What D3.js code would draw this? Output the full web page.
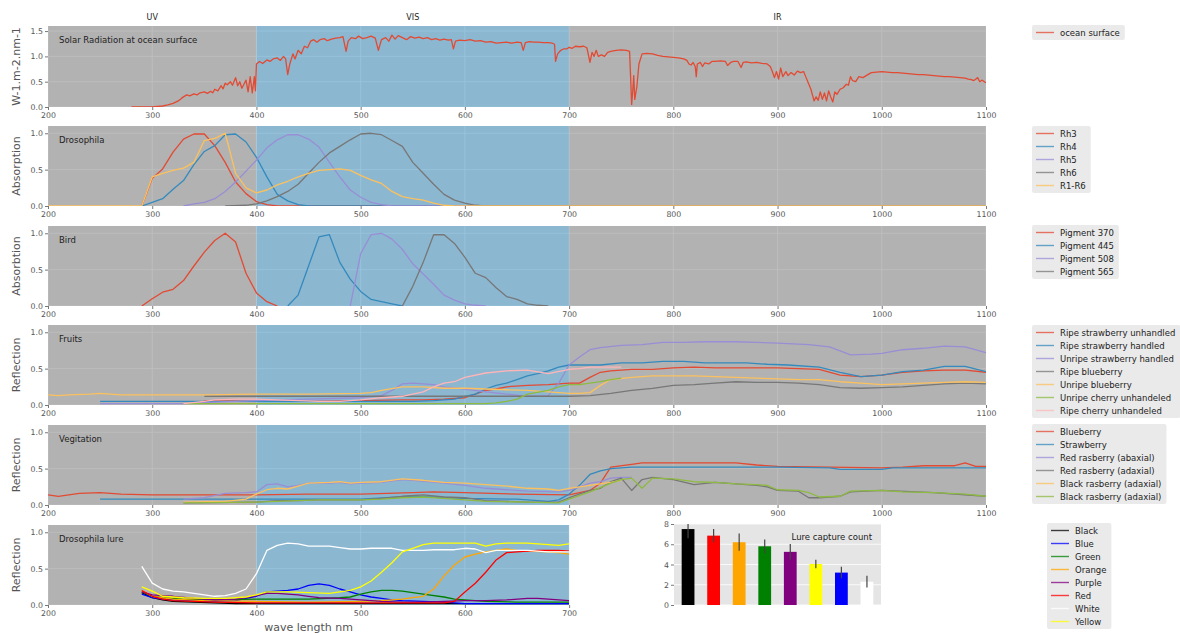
<!DOCTYPE html>
<html>
<head>
<meta charset="utf-8">
<script src="https://cdn.jsdelivr.net/npm/d3@7"></script>
<style>
body { margin: 0; background: #fff; }
text { font-family: "DejaVu Sans", sans-serif; }
</style>
</head>
<body>
<div id="chart"></div>
<script>
// ---- data (wavelength nm, value) ----
var solar = [[280,0],[290,0],[300,0.0],[305,0.01],[310,0.02],[315,0.04],[320,0.07],[325,0.12],[328,0.17],[330,0.2],[333,0.24],[336,0.22],[340,0.26],[343,0.24],[346,0.28],[350,0.3],[353,0.27],[356,0.31],[358,0.28],[360,0.35],[363,0.32],[366,0.42],[368,0.36],[370,0.47],[372,0.44],[375,0.5],[377,0.43],[380,0.58],[382,0.42],[384,0.5],[386,0.37],[388,0.45],[390,0.53],[392,0.3],[394,0.6],[396,0.28],[398,0.6],[399,0.32],[400,0.85],[403,0.9],[406,0.86],[410,0.93],[413,0.9],[416,0.95],[420,0.97],[423,0.92],[426,1.0],[428,0.95],[430,0.64],[432,0.85],[435,1.05],[437,0.95],[440,1.12],[443,1.05],[446,1.2],[449,1.17],[452,1.3],[455,1.33],[458,1.28],[461,1.33],[465,1.35],[468,1.31],[472,1.34],[476,1.36],[480,1.37],[483,1.39],[486,1.1],[488,1.3],[491,1.37],[495,1.35],[498,1.4],[502,1.35],[506,1.37],[510,1.4],[514,1.36],[517,1.12],[520,1.33],[524,1.37],[527,1.3],[530,1.42],[533,1.34],[536,1.41],[540,1.37],[544,1.33],[548,1.39],[552,1.36],[556,1.38],[560,1.35],[564,1.37],[568,1.33],[572,1.35],[576,1.32],[580,1.34],[584,1.32],[587,1.33],[589,1.15],[591,1.3],[595,1.32],[600,1.31],[605,1.33],[610,1.3],[615,1.31],[620,1.28],[625,1.29],[630,1.26],[635,1.27],[640,1.28],[645,1.26],[650,1.28],[654,1.27],[656,1.12],[658,1.27],[662,1.29],[666,1.28],[670,1.28],[675,1.27],[680,1.27],[684,1.26],[686,1.24],[687,0.9],[689,1.05],[692,1.12],[695,1.15],[698,1.15],[700,1.18],[703,1.16],[706,1.2],[710,1.19],[714,1.2],[717,1.17],[718,1.08],[720,0.88],[722,1.08],[724,1.0],[726,1.12],[728,1.0],[731,1.03],[734,1.0],[737,1.08],[740,1.1],[745,1.12],[750,1.13],[755,1.12],[758,1.1],[759,0.6],[760,0.05],[761,0.3],[762,0.62],[763,0.15],[765,0.4],[767,0.85],[770,1.05],[775,1.06],[780,1.05],[785,1.02],[790,1.0],[795,0.99],[800,0.98],[805,0.97],[810,0.95],[813,0.92],[815,0.85],[817,0.83],[819,0.88],[821,0.8],[822,0.6],[823,0.85],[826,0.88],[828,0.8],[830,0.87],[834,0.85],[837,0.9],[840,0.9],[845,0.91],[850,0.9],[852,0.82],[855,0.88],[858,0.9],[862,0.9],[865,0.78],[867,0.88],[870,0.89],[875,0.87],[880,0.88],[885,0.86],[890,0.85],[893,0.8],[895,0.7],[897,0.58],[899,0.7],[901,0.55],[903,0.77],[905,0.6],[908,0.7],[910,0.62],[913,0.68],[916,0.63],[919,0.71],[922,0.68],[925,0.7],[927,0.6],[930,0.45],[932,0.35],[934,0.2],[935,0.12],[937,0.2],[939,0.13],[941,0.3],[943,0.15],[945,0.28],[947,0.12],[949,0.32],[951,0.2],[953,0.1],[955,0.3],[957,0.25],[960,0.35],[963,0.38],[966,0.45],[968,0.43],[970,0.6],[972,0.52],[975,0.5],[978,0.6],[982,0.58],[985,0.62],[990,0.68],[995,0.69],[1000,0.7],[1005,0.69],[1010,0.68],[1015,0.68],[1020,0.67],[1025,0.66],[1030,0.65],[1035,0.64],[1040,0.64],[1045,0.63],[1050,0.62],[1055,0.61],[1060,0.6],[1065,0.6],[1070,0.59],[1075,0.58],[1080,0.57],[1083,0.55],[1086,0.54],[1088,0.52],[1090,0.55],[1092,0.58],[1094,0.5],[1096,0.53],[1100,0.48]];

var rh3 = [[290,0],[300,0.38],[310,0.51],[320,0.74],[330,0.92],[340,0.99],[350,0.99],[360,0.83],[370,0.6],[380,0.33],[390,0.17],[400,0.06],[410,0.02],[420,0],[1100,0]];
var rh4 = [[290,0],[300,0.05],[310,0.1],[320,0.23],[330,0.35],[340,0.57],[350,0.75],[360,0.83],[370,0.98],[380,0.99],[390,0.88],[400,0.67],[410,0.4],[420,0.16],[430,0.07],[440,0.02],[450,0],[1100,0]];
var rh5 = [[330,0],[340,0.03],[350,0.05],[360,0.1],[370,0.2],[380,0.33],[390,0.48],[400,0.63],[410,0.8],[420,0.91],[430,0.98],[440,0.98],[450,0.92],[460,0.81],[470,0.6],[480,0.4],[490,0.22],[500,0.12],[510,0.05],[520,0.02],[530,0],[1100,0]];
var rh6 = [[370,0],[390,0.01],[400,0.03],[410,0.07],[420,0.13],[430,0.2],[440,0.3],[450,0.45],[460,0.6],[470,0.73],[480,0.82],[490,0.91],[500,0.99],[510,1.0],[520,0.98],[530,0.9],[540,0.82],[550,0.6],[560,0.45],[570,0.3],[580,0.16],[590,0.08],[600,0.04],[610,0.01],[620,0],[1100,0]];
var r1r6 = [[200,0],[290,0],[300,0.4],[310,0.45],[320,0.49],[330,0.52],[340,0.6],[350,0.9],[360,0.93],[370,1.0],[380,0.45],[390,0.25],[400,0.18],[410,0.22],[420,0.29],[430,0.34],[440,0.4],[450,0.45],[460,0.49],[470,0.5],[480,0.51],[490,0.49],[500,0.42],[510,0.36],[520,0.31],[530,0.2],[540,0.13],[550,0.1],[560,0.08],[570,0.04],[580,0.01],[590,0],[1100,0]];

var pig370 = [[290,0],[300,0.1],[310,0.19],[320,0.23],[330,0.35],[340,0.55],[350,0.74],[360,0.9],[370,1.0],[380,0.88],[390,0.45],[400,0.18],[410,0.06],[420,0]];
var pig445 = [[430,0],[440,0.15],[450,0.55],[460,0.95],[470,0.98],[480,0.6],[490,0.37],[500,0.2],[510,0.09],[520,0.06],[530,0.03],[540,0]];
var pig508 = [[490,0],[500,0.72],[510,0.98],[520,1.0],[530,0.92],[540,0.78],[550,0.58],[560,0.44],[570,0.3],[580,0.15],[590,0.08],[600,0.03],[610,0.01],[620,0]];
var pig565 = [[540,0],[550,0.27],[560,0.6],[570,0.98],[580,0.98],[590,0.86],[600,0.67],[610,0.45],[620,0.39],[630,0.25],[640,0.13],[650,0.09],[660,0.03],[670,0.01],[680,0]];

var ripeStrawUnh = [[350,0.06],[400,0.05],[450,0.05],[500,0.06],[540,0.07],[560,0.07],[580,0.08],[600,0.1],[610,0.15],[620,0.2],[630,0.22],[640,0.25],[660,0.27],[680,0.28],[700,0.3],[710,0.3],[720,0.38],[730,0.45],[740,0.47],[760,0.49],[780,0.49],[800,0.51],[820,0.52],[840,0.51],[880,0.51],[900,0.51],[920,0.5],[940,0.49],[960,0.41],[980,0.39],[1000,0.41],[1020,0.45],[1040,0.47],[1060,0.48],[1080,0.48],[1100,0.45]];
var ripeStrawH = [[250,0.05],[300,0.05],[400,0.05],[500,0.05],[550,0.05],[570,0.06],[590,0.08],[600,0.12],[610,0.15],[620,0.22],[630,0.27],[640,0.3],[650,0.35],[660,0.4],[670,0.43],[680,0.47],[690,0.52],[700,0.55],[730,0.55],[750,0.58],[770,0.58],[790,0.6],[810,0.6],[830,0.58],[870,0.58],[890,0.56],[910,0.55],[940,0.52],[960,0.45],[980,0.39],[1000,0.41],[1020,0.46],[1040,0.48],[1060,0.53],[1080,0.53],[1100,0.46]];
var unripeStrawH = [[250,0.02],[330,0.02],[360,0.04],[400,0.06],[450,0.08],[500,0.1],[520,0.13],[530,0.2],[540,0.29],[550,0.3],[560,0.29],[570,0.28],[580,0.25],[600,0.22],[620,0.18],[640,0.15],[660,0.12],[670,0.12],[680,0.13],[690,0.3],[700,0.55],[710,0.66],[720,0.76],[730,0.79],[750,0.82],[770,0.83],[790,0.86],[810,0.86],[830,0.87],[860,0.87],[880,0.86],[900,0.85],[930,0.83],[950,0.8],[970,0.69],[990,0.7],[1000,0.71],[1020,0.76],[1040,0.78],[1060,0.81],[1080,0.8],[1100,0.72]];
var ripeBlue = [[350,0.12],[400,0.12],[500,0.12],[600,0.12],[700,0.12],[720,0.13],[740,0.16],[760,0.2],[780,0.23],[800,0.27],[820,0.28],[840,0.3],[860,0.32],[880,0.31],[900,0.31],[920,0.3],[940,0.28],[960,0.24],[980,0.23],[1000,0.24],[1020,0.25],[1040,0.27],[1060,0.29],[1080,0.3],[1100,0.29]];
var unripeBlue = [[200,0.14],[210,0.13],[220,0.14],[240,0.15],[250,0.16],[260,0.15],[270,0.14],[300,0.14],[350,0.14],[400,0.15],[450,0.15],[500,0.16],[510,0.17],[520,0.2],[540,0.25],[560,0.25],[580,0.23],[600,0.23],[620,0.22],[640,0.21],[660,0.2],[680,0.18],[700,0.16],[710,0.16],[720,0.17],[730,0.27],[740,0.35],[760,0.38],[780,0.4],[800,0.4],[820,0.4],[840,0.39],[860,0.38],[880,0.37],[900,0.36],[920,0.35],[940,0.35],[960,0.32],[980,0.3],[1000,0.28],[1020,0.29],[1040,0.3],[1060,0.31],[1080,0.32],[1100,0.31]];
var unripeCherry = [[330,0.02],[400,0.02],[500,0.02],[600,0.02],[620,0.02],[630,0.03],[640,0.05],[650,0.08],[660,0.15],[680,0.2],[690,0.25],[700,0.28],[710,0.28],[720,0.3],[730,0.32],[740,0.35],[750,0.37]];
var ripeCherry = [[330,0.02],[350,0.05],[360,0.07],[380,0.08],[400,0.08],[420,0.07],[440,0.06],[460,0.05],[480,0.05],[500,0.07],[520,0.1],[540,0.12],[560,0.18],[570,0.25],[580,0.3],[590,0.32],[600,0.38],[620,0.44],[640,0.47],[660,0.48],[680,0.43],[700,0.49],[710,0.5],[720,0.52],[740,0.52],[750,0.52]];

var vegBlueberry = [[200,0.14],[210,0.12],[230,0.16],[250,0.17],[270,0.15],[300,0.14],[350,0.14],[400,0.14],[450,0.15],[500,0.15],[550,0.17],[570,0.18],[600,0.17],[650,0.15],[700,0.14],[720,0.2],[730,0.3],[740,0.52],[760,0.56],[770,0.58],[800,0.58],[860,0.58],[880,0.55],[900,0.53],[950,0.52],[1000,0.51],[1020,0.52],[1040,0.54],[1070,0.54],[1080,0.58],[1090,0.53],[1100,0.53]];
var vegStrawberry = [[250,0.08],[300,0.08],[400,0.08],[500,0.08],[550,0.12],[600,0.09],[650,0.08],[680,0.05],[690,0.07],[700,0.15],[710,0.27],[720,0.42],[730,0.47],[740,0.5],[760,0.52],[800,0.52],[900,0.52],[950,0.51],[960,0.49],[1000,0.49],[1010,0.51],[1100,0.51]];
var redRasAb = [[330,0.08],[350,0.1],[370,0.16],[390,0.17],[400,0.18],[410,0.28],[420,0.29],[430,0.25],[440,0.27],[450,0.3],[470,0.3],[480,0.31],[490,0.29],[500,0.3],[520,0.31],[540,0.35],[560,0.33],[580,0.3],[600,0.27],[620,0.23],[640,0.21],[660,0.19],[690,0.18],[700,0.2],[710,0.25],[720,0.3],[730,0.32],[740,0.37],[750,0.38],[760,0.38]];
var redRasAd = [[330,0.03],[400,0.04],[420,0.06],[440,0.06],[460,0.07],[500,0.07],[520,0.09],[540,0.12],[560,0.14],[580,0.11],[600,0.1],[620,0.06],[660,0.04],[690,0.04],[700,0.1],[720,0.2],[730,0.23],[740,0.32],[750,0.37],[760,0.2],[770,0.35],[780,0.38],[800,0.35],[820,0.28],[840,0.31],[860,0.29],[880,0.27],[890,0.25],[900,0.2],[920,0.19],[930,0.1],[940,0.1],[950,0.11],[960,0.12],[970,0.18],[1000,0.2],[1050,0.17],[1100,0.12]];
var blackRasAdY = [[330,0.04],[370,0.05],[390,0.08],[400,0.15],[410,0.21],[420,0.23],[430,0.22],[440,0.26],[450,0.3],[470,0.31],[480,0.32],[490,0.3],[500,0.31],[520,0.32],[540,0.36],[560,0.34],[580,0.31],[600,0.3],[620,0.28],[640,0.26],[660,0.23],[680,0.22],[690,0.2],[700,0.23],[720,0.27],[740,0.31],[750,0.34]];
var blackRasAdG = [[330,0.03],[400,0.04],[420,0.05],[440,0.06],[460,0.07],[500,0.07],[520,0.08],[540,0.1],[560,0.11],[580,0.09],[600,0.07],[620,0.05],[660,0.04],[690,0.03],[700,0.08],[720,0.18],[740,0.3],[750,0.35],[760,0.37],[770,0.23],[780,0.37],[800,0.36],[820,0.32],[840,0.31],[860,0.29],[880,0.28],[890,0.27],[900,0.21],[920,0.2],[930,0.17],[940,0.11],[960,0.12],[970,0.19],[1000,0.2],[1020,0.18],[1050,0.17],[1080,0.15],[1100,0.12]];

var lureBlack = [[290,0.17],[300,0.1],[310,0.07],[320,0.05],[340,0.04],[360,0.03],[380,0.02],[400,0.02],[500,0.02],[600,0.02],[700,0.02]];
var lureBlue = [[290,0.15],[300,0.1],[310,0.08],[320,0.07],[340,0.06],[360,0.05],[380,0.06],[400,0.12],[410,0.18],[420,0.19],[430,0.2],[440,0.22],[450,0.27],[460,0.29],[470,0.27],[480,0.22],[490,0.18],[500,0.14],[510,0.11],[520,0.09],[530,0.07],[540,0.06],[560,0.05],[580,0.04],[600,0.02],[650,0.02],[700,0.02]];
var lureGreen = [[290,0.18],[300,0.12],[310,0.1],[330,0.08],[360,0.07],[400,0.08],[450,0.08],[480,0.1],[490,0.11],[500,0.15],[510,0.18],[520,0.2],[530,0.2],[540,0.19],[560,0.15],[580,0.11],[590,0.08],[600,0.07],[620,0.05],[650,0.04],[700,0.04]];
var lureOrange = [[290,0.2],[300,0.12],[320,0.08],[350,0.06],[400,0.05],[450,0.04],[500,0.05],[520,0.06],[540,0.08],[550,0.1],[560,0.12],[570,0.22],[580,0.4],[590,0.55],[600,0.66],[610,0.7],[620,0.73],[630,0.75],[640,0.77],[650,0.75],[660,0.74],[680,0.73],[690,0.72],[700,0.7]];
var lurePurple = [[290,0.18],[300,0.14],[310,0.13],[320,0.12],[340,0.09],[360,0.07],[380,0.08],[390,0.1],[400,0.13],[410,0.16],[420,0.16],[430,0.15],[440,0.14],[450,0.12],[460,0.1],[480,0.09],[500,0.07],[520,0.05],[540,0.04],[560,0.04],[580,0.05],[600,0.06],[620,0.06],[640,0.07],[660,0.09],[670,0.09],[690,0.07],[700,0.06]];
var lureRed = [[290,0.2],[300,0.12],[310,0.08],[320,0.06],[340,0.05],[360,0.04],[400,0.03],[500,0.03],[580,0.03],[590,0.05],[600,0.18],[610,0.3],[620,0.45],[630,0.62],[640,0.72],[650,0.73],[670,0.75],[690,0.75],[700,0.74]];
var lureWhite = [[290,0.53],[300,0.3],[310,0.22],[320,0.19],[330,0.18],[340,0.16],[350,0.14],[360,0.12],[370,0.13],[380,0.16],[390,0.22],[400,0.43],[410,0.75],[420,0.82],[430,0.85],[440,0.84],[450,0.81],[470,0.81],[480,0.79],[490,0.77],[500,0.77],[510,0.78],[530,0.78],[540,0.75],[560,0.75],[570,0.76],[590,0.76],[600,0.78],[610,0.77],[620,0.72],[630,0.75],[660,0.75],[680,0.73],[700,0.73]];
var lureYellow = [[290,0.25],[300,0.19],[310,0.12],[330,0.1],[350,0.09],[370,0.09],[390,0.11],[400,0.14],[410,0.18],[430,0.18],[450,0.17],[470,0.16],[480,0.18],[490,0.2],[500,0.25],[510,0.33],[520,0.45],[530,0.58],[540,0.73],[550,0.78],[560,0.83],[570,0.85],[610,0.85],[620,0.81],[630,0.84],[640,0.85],[660,0.85],[680,0.83],[690,0.82],[700,0.84]];

var barNames = ["Black","Red","Orange","Green","Purple","Yellow","Blue","White"];
var barMeans = [7.5, 6.85, 6.2, 5.8, 5.25, 4.05, 3.2, 2.3];
var barErr = [0.9, 0.66, 0.85, 0.68, 0.77, 0.42, 0.57, 0.58];

var spanLabels = ["UV","VIS","IR"];
var spanEdges = [[200,400],[400,700],[700,1100]];

// ---- styles ----
var C = ["#E24A33","#348ABD","#988ED5","#777777","#FBC15E","#8EBA42","#FFB5B8"];
var spanColors = ["gray","#348ABD","gray"];

var W = 1180, H = 633;
var svg = d3.select("#chart").append("svg")
  .attr("width", W)
  .attr("height", H);

var x = d3.scaleLinear().domain([200,1100]).range([48,986]);

var panels = [
  {top:26, h:81, xmax:1100, ymax:1.6, yticks:[0,0.5,1,1.5], ylabel:"W-1.m-2.nm-1", title:"Solar Radiation at ocean surface",
   series:[["ocean surface", solar, C[0]]], legendX:1032, legendY:25},
  {top:126, h:80, xmax:1100, ymax:1.1, yticks:[0,0.5,1], ylabel:"Absorption", title:"Drosophila",
   series:[["Rh3",rh3,C[0]],["Rh4",rh4,C[1]],["Rh5",rh5,C[2]],["Rh6",rh6,C[3]],["R1-R6",r1r6,C[4]]], legendX:1032, legendY:126},
  {top:226, h:80, xmax:1100, ymax:1.1, yticks:[0,0.5,1], ylabel:"Absorbtion", title:"Bird",
   series:[["Pigment 370",pig370,C[0]],["Pigment 445",pig445,C[1]],["Pigment 508",pig508,C[2]],["Pigment 565",pig565,C[3]]], legendX:1032, legendY:225},
  {top:325, h:80, xmax:1100, ymax:1.1, yticks:[0,0.5,1], ylabel:"Reflection", title:"Fruits",
   series:[["Ripe strawberry unhandled",ripeStrawUnh,C[0]],["Ripe strawberry handled",ripeStrawH,C[1]],["Unripe strawberry handled",unripeStrawH,C[2]],
           ["Ripe blueberry",ripeBlue,C[3]],["Unripe blueberry",unripeBlue,C[4]],["Unripe cherry unhandeled",unripeCherry,C[5]],["Ripe cherry unhandeled",ripeCherry,C[6]]],
   legendX:1032, legendY:325},
  {top:425, h:80, xmax:1100, ymax:1.1, yticks:[0,0.5,1], ylabel:"Reflection", title:"Vegitation",
   series:[["Blueberry",vegBlueberry,C[0]],["Strawberry",vegStrawberry,C[1]],["Red rasberry (abaxial)",redRasAb,C[2]],["Red rasberry (adaxial)",redRasAd,C[3]],
           ["Black rasberry (adaxial)",blackRasAdY,C[4]],["Black rasberry (adaxial)",blackRasAdG,C[5]]],
   legendX:1032, legendY:424},
  {top:525, h:80, xmax:700, ymax:1.1, yticks:[0,0.5,1], ylabel:"Reflection", title:"Drosophila lure",
   series:[["Black",lureBlack,"black"],["Blue",lureBlue,"blue"],["Green",lureGreen,"green"],["Orange",lureOrange,"orange"],
           ["Purple",lurePurple,"purple"],["Red",lureRed,"red"],["White",lureWhite,"white"],["Yellow",lureYellow,"yellow"]],
   legendX:1047, legendY:523, xlabel:"wave length nm"}
];

function styleAxis(g) {
  g.select(".domain").remove();
  g.selectAll(".tick line").attr("stroke", "#555").attr("stroke-width", 0.8);
  g.selectAll(".tick text").attr("fill", "#555").style("font-size", "7.8px")
    .style("font-family", "DejaVu Sans, sans-serif");
}

function drawLegend(items, lx, ly) {
  var lg = svg.append("g").attr("transform", "translate(" + lx + "," + ly + ")");
  var box = lg.append("rect").attr("fill", "#e5e5e5").attr("fill-opacity", 0.8).attr("rx", 2);
  var maxW = 0;
  items.forEach(function(it, i) {
    var cy = 7.5 + i * 13;
    lg.append("line").attr("x1", 4).attr("x2", 22).attr("y1", cy).attr("y2", cy)
      .attr("stroke", it[2]).attr("stroke-width", 1.4).attr("stroke-opacity", 0.75);
    var t = lg.append("text").attr("x", 28).attr("y", cy + 3)
      .style("font-size", "8.5px").attr("fill", "#222").text(it[0]);
    maxW = Math.max(maxW, t.node().getComputedTextLength());
  });
  box.attr("width", 28 + maxW + 5).attr("height", 13 * (items.length - 1) + 15);
}

panels.forEach(function(p, pi) {
  var xs = d3.scaleLinear().domain([200, p.xmax]).range([x(200), x(p.xmax)]);
  var y = d3.scaleLinear().domain([0, p.ymax]).range([p.top + p.h, p.top]);
  var x0 = xs(200), x1 = xs(p.xmax), bottom = p.top + p.h;
  var g = svg.append("g");

  g.append("rect").attr("x", x0).attr("y", p.top).attr("width", x1 - x0).attr("height", p.h).attr("fill", "#e5e5e5");

  var xt = d3.range(200, p.xmax + 1, 100);
  g.selectAll(".gx").data(xt).enter().append("line")
    .attr("x1", function(d){ return xs(d); }).attr("x2", function(d){ return xs(d); })
    .attr("y1", p.top).attr("y2", bottom).attr("stroke", "#fff").attr("stroke-width", 0.8);
  g.selectAll(".gy").data(p.yticks).enter().append("line")
    .attr("x1", x0).attr("x2", x1)
    .attr("y1", function(d){ return y(d); }).attr("y2", function(d){ return y(d); })
    .attr("stroke", "#fff").attr("stroke-width", 0.8);

  // UV / VIS / IR spans
  spanEdges.forEach(function(s, i) {
    if (s[0] >= p.xmax) return;
    var b = Math.min(s[1], p.xmax);
    g.append("rect").attr("x", xs(s[0])).attr("y", p.top)
      .attr("width", xs(b) - xs(s[0])).attr("height", p.h)
      .attr("fill", spanColors[i]).attr("fill-opacity", 0.5);
  });

  var clipId = "clip" + pi;
  svg.append("clipPath").attr("id", clipId).append("rect")
    .attr("x", x0).attr("y", p.top - 1).attr("width", x1 - x0).attr("height", p.h + 1);

  var line = d3.line().x(function(d){ return xs(d[0]); }).y(function(d){ return y(d[1]); });
  g.append("g").attr("clip-path", "url(#" + clipId + ")")
    .selectAll("path").data(p.series).enter().append("path")
    .attr("d", function(d){ return line(d[1]); })
    .attr("fill", "none")
    .attr("stroke", function(d){ return d[2]; })
    .attr("stroke-width", 1.3)
    .attr("stroke-linejoin", "round");

  g.append("g").attr("transform", "translate(0," + bottom + ")")
    .call(d3.axisBottom(xs).tickValues(xt).tickSize(3).tickPadding(2).tickFormat(d3.format("d")))
    .call(styleAxis);
  g.append("g").attr("transform", "translate(" + x0 + ",0)")
    .call(d3.axisLeft(y).tickValues(p.yticks).tickSize(3).tickPadding(2).tickFormat(d3.format(".1f")))
    .call(styleAxis);

  g.append("text").attr("transform", "translate(20," + (p.top + p.h / 2) + ") rotate(-90)")
    .attr("text-anchor", "middle").style("font-size", "11px").attr("fill", "#555").text(p.ylabel);
  g.append("text").attr("x", x0 + 11).attr("y", p.top + 17)
    .style("font-size", "8.5px").attr("fill", "#222").text(p.title);

  if (p.xlabel) {
    g.append("text").attr("x", (x0 + x1) / 2).attr("y", bottom + 26)
      .attr("text-anchor", "middle").style("font-size", "11px").attr("fill", "#555").text(p.xlabel);
  }

  drawLegend(p.series, p.legendX, p.legendY);
});

// span labels on top
svg.selectAll(".spanLabel").data(spanLabels).enter().append("text")
  .attr("x", function(d, i){ return x((spanEdges[i][0] + spanEdges[i][1]) / 2); })
  .attr("y", 20)
  .attr("text-anchor", "middle")
  .style("font-size", "8px")
  .attr("fill", "#222")
  .text(function(d){ return d; });

// ---- lure capture bar chart ----
var bx = d3.scaleBand().domain(barNames).range([674, 881]).paddingInner(0.5).paddingOuter(0.3);
var by = d3.scaleLinear().domain([0, 8]).range([605, 524]);
var bg = svg.append("g");
bg.append("rect").attr("x", 674).attr("y", 524).attr("width", 207).attr("height", 81).attr("fill", "#e5e5e5");
bg.selectAll(".bgy").data([0,2,4,6,8]).enter().append("line")
  .attr("x1", 674).attr("x2", 881)
  .attr("y1", function(d){ return by(d); }).attr("y2", function(d){ return by(d); })
  .attr("stroke", "#fff").attr("stroke-width", 0.8);
svg.append("clipPath").attr("id", "clipBar").append("rect")
  .attr("x", 674).attr("y", 524).attr("width", 207).attr("height", 81);
var bars = bg.append("g").attr("clip-path", "url(#clipBar)");
bars.selectAll("rect").data(barNames).enter().append("rect")
  .attr("x", function(d){ return bx(d); })
  .attr("width", bx.bandwidth())
  .attr("y", function(d, i){ return by(barMeans[i]); })
  .attr("height", function(d, i){ return by(0) - by(barMeans[i]); })
  .attr("fill", function(d){ return d.toLowerCase(); });
bars.selectAll(".err").data(barNames).enter().append("line")
  .attr("x1", function(d){ return bx(d) + bx.bandwidth() / 2; })
  .attr("x2", function(d){ return bx(d) + bx.bandwidth() / 2; })
  .attr("y1", function(d, i){ return by(barMeans[i] - barErr[i]); })
  .attr("y2", function(d, i){ return by(barMeans[i] + barErr[i]); })
  .attr("stroke", "#444").attr("stroke-width", 1.2);
bg.append("g").attr("transform", "translate(674,0)")
  .call(d3.axisLeft(by).tickValues([0,2,4,6,8]).tickSize(3).tickPadding(2).tickFormat(d3.format("d")))
  .call(styleAxis);
bg.append("text").attr("x", 872).attr("y", 540).attr("text-anchor", "end")
  .style("font-size", "8.5px").attr("fill", "#222").text("Lure capture count");
</script>
</body>
</html>
